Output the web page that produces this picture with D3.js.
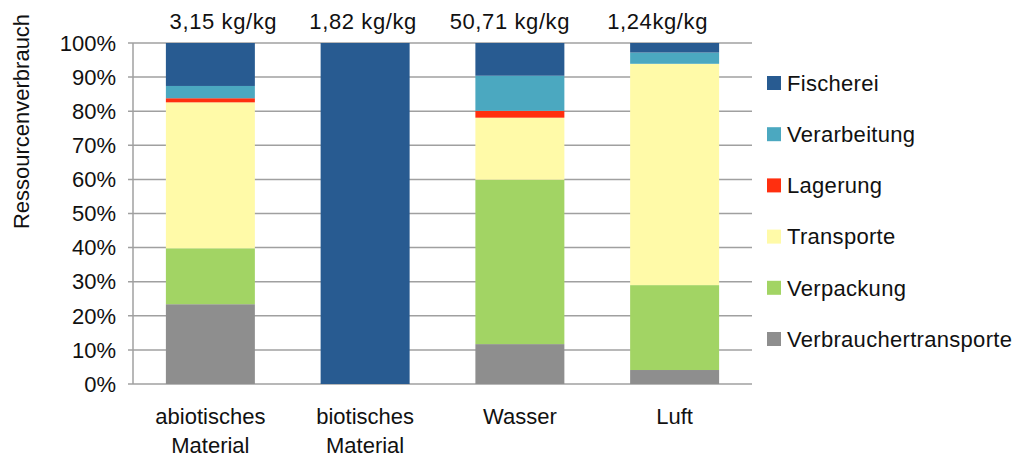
<!DOCTYPE html>
<html>
<head>
<meta charset="utf-8">
<script src="https://cdn.jsdelivr.net/npm/d3@7"></script>
<style>
  html, body { margin: 0; padding: 0; background: #fff; }
  svg { display: block; font-family: "Liberation Sans", Arial, sans-serif; }
</style>
</head>
<body>
<svg id="chart" width="1024" height="473"></svg>
<script>
// ---- data ----
const categories = ["abiotisches\nMaterial", "biotisches\nMaterial", "Wasser", "Luft"];
const totals = ["3,15 kg/kg", "1,82 kg/kg", "50,71 kg/kg", "1,24kg/kg"];
const seriesNames = ["Verbrauchertransporte", "Verpackung", "Transporte", "Lagerung", "Verarbeitung", "Fischerei"];
const verbrauchertransporte = [23.4, 0, 11.7, 4.1];
const verpackung = [16.4, 0, 48.2, 24.9];
const transporte = [42.8, 0, 18.2, 64.9];
const lagerung = [1.2, 0, 2.0, 0];
const verarbeitung = [3.6, 0, 10.3, 3.3];
const fischerei = [12.6, 100, 9.6, 2.8];
const yTicks = [0, 10, 20, 30, 40, 50, 60, 70, 80, 90, 100];
const yTitle = "Ressourcenverbrauch";

// ---- layout ----
const colors = {
  "Fischerei": "#285b91",
  "Verarbeitung": "#4ba8c0",
  "Lagerung": "#ff2f0f",
  "Transporte": "#fffaa8",
  "Verpackung": "#a2d464",
  "Verbrauchertransporte": "#8e8e8e"
};
const labelShift = [13, -2, -10, -17];
const plot = { left: 133, right: 752, top: 43, bottom: 384 };

const seriesValues = [verbrauchertransporte, verpackung, transporte, lagerung, verarbeitung, fischerei];
const rows = categories.map((c, i) => {
  const r = { cat: c };
  seriesNames.forEach((s, j) => r[s] = seriesValues[j][i]);
  return r;
});
const stacked = d3.stack().keys(seriesNames)(rows);

const svg = d3.select("#chart");
const x = d3.scaleBand().domain(categories).range([plot.left, plot.right])
  .paddingInner(0.425).paddingOuter(0.2125);
const y = d3.scaleLinear().domain([0, 100]).range([plot.bottom, plot.top]);

const gridColor = "#a0a0a0";
// gridlines
svg.append("g").selectAll("line").data(yTicks).join("line")
  .attr("x1", plot.left - 5).attr("x2", plot.right)
  .attr("y1", d => y(d)).attr("y2", d => y(d))
  .attr("stroke", gridColor).attr("stroke-width", 1.5);

// bars
svg.append("g").selectAll("g").data(stacked).join("g")
  .attr("fill", d => colors[d.key])
  .selectAll("rect").data(d => d).join("rect")
  .attr("x", d => x(d.data.cat))
  .attr("width", x.bandwidth())
  .attr("y", d => y(d[1]))
  .attr("height", d => y(d[0]) - y(d[1]));

// y axis line
svg.append("line")
  .attr("x1", plot.left).attr("x2", plot.left)
  .attr("y1", y(100)).attr("y2", y(0))
  .attr("stroke", gridColor).attr("stroke-width", 1.5);

// y tick labels
svg.append("g").selectAll("text").data(yTicks).join("text")
  .attr("x", 116).attr("y", d => y(d)).attr("dy", "0.35em")
  .attr("text-anchor", "end").attr("font-size", 22).attr("fill", "#111")
  .text(d => d + "%");

// y title
svg.append("text")
  .attr("transform", `translate(29,${(y(100) + y(0)) / 2 - 92}) rotate(-90)`)
  .attr("text-anchor", "middle").attr("font-size", 22).attr("fill", "#111")
  .text(yTitle);

// x labels
const xl = svg.append("g").selectAll("text").data(categories).join("text")
  .attr("text-anchor", "middle").attr("font-size", 22).attr("fill", "#111")
  .attr("transform", d => `translate(${x(d) + x.bandwidth() / 2},424)`);
xl.selectAll("tspan").data(d => d.split("\n")).join("tspan")
  .attr("x", 0).attr("y", (d, i) => i * 29).text(d => d);

// top total labels
svg.append("g").selectAll("text").data(categories).join("text")
  .attr("x", (d, i) => x(d) + x.bandwidth() / 2 + labelShift[i])
  .attr("y", 29)
  .attr("text-anchor", "middle").attr("font-size", 22).attr("fill", "#111")
  .attr("letter-spacing", 0.6)
  .text((d, i) => totals[i]);

// legend
const legendOrder = seriesNames.slice().reverse();
const lg = svg.append("g").selectAll("g").data(legendOrder).join("g")
  .attr("transform", (d, i) => `translate(767,${83 + i * 51.2})`);
lg.append("rect").attr("x", 0).attr("y", -7).attr("width", 14).attr("height", 14)
  .attr("fill", d => colors[d]);
lg.append("text").attr("x", 20).attr("y", 0).attr("dy", "0.35em")
  .attr("font-size", 22).attr("fill", "#111").attr("letter-spacing", 0.3)
  .text(d => d);
</script>
</body>
</html>
